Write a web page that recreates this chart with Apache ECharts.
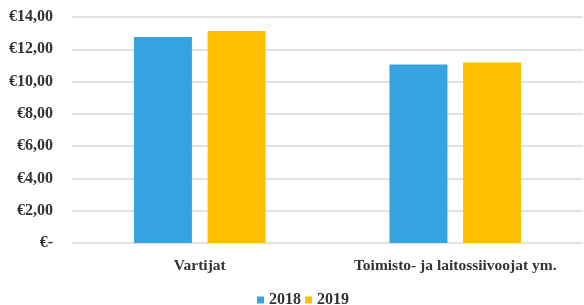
<!DOCTYPE html>
<html>
  <head>
    <meta charset="utf-8" />
    <title>Palkat</title>
    <script src="https://cdn.jsdelivr.net/npm/echarts@6.0.0/dist/echarts.min.js"></script>
  </head>
  <body style="margin:0;background:#fff;">
    <div id="chart" style="width: 584px;height:305px;"></div>
    <script type="text/javascript">
      // data
      var categories = ['Vartijat', 'Toimisto- ja laitossiivoojat ym.'];
      var years = ['2018', '2019'];
      var values2018 = [12.76, 11.05];
      var values2019 = [13.13, 11.18];
      var colors = ['#35A4E0', '#FFC000'];

      var font = '"Liberation Serif", "DejaVu Serif", serif';
      var chart = echarts.init(document.getElementById('chart'));

      var option = {
        animation: false,
        color: colors,
        textStyle: { fontFamily: font },
        grid: { left: 72, right: 1, top: 17, bottom: 62 },
        legend: {
          data: years,
          top: 287,
          left: 252,
          icon: 'rect',
          itemWidth: 7,
          itemHeight: 7,
          itemGap: 4,
          textStyle: { fontFamily: font, fontSize: 16, color: '#333', fontWeight: 'bold' }
        },
        xAxis: {
          type: 'category',
          data: categories,
          axisLine: { show: false },
          axisTick: { show: false },
          axisLabel: { interval: 0, margin: 15, fontSize: 15.5, color: '#333', fontWeight: 'bold', fontFamily: font }
        },
        yAxis: {
          type: 'value',
          min: 0,
          max: 14,
          interval: 2,
          axisLine: { show: false },
          axisTick: { show: false },
          splitLine: { lineStyle: { color: '#d9d9d9', width: 1.5 } },
          axisLabel: {
            margin: 19,
            fontSize: 16,
            color: '#333',
            fontWeight: 'bold',
            fontFamily: font,
            formatter: function (v) {
              if (v === 0) return '€-';
              return '€' + v.toFixed(2).replace('.', ',');
            }
          }
        },
        series: [
          { name: years[0], type: 'bar', data: values2018, barWidth: 58, barGap: '27%' },
          { name: years[1], type: 'bar', data: values2019, barWidth: 58, barGap: '27%' }
        ]
      };
      chart.setOption(option);
    </script>
  </body>
</html>
